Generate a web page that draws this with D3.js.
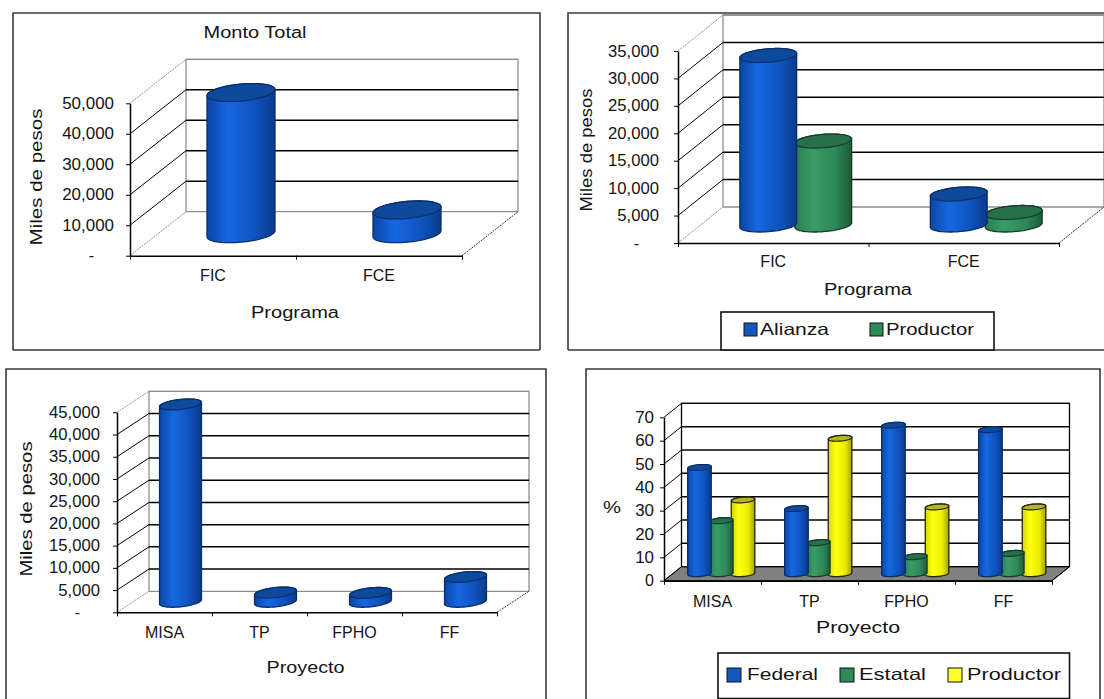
<!DOCTYPE html>
<html lang="es">
<head>
<meta charset="utf-8">
<title>Monto y participación por programa y proyecto</title>
<script src="https://cdn.jsdelivr.net/npm/d3@7/dist/d3.min.js"></script>
<style>
  html, body { margin: 0; padding: 0; background: #fff; }
  svg { display: block; }
  text { font-family: "Liberation Sans", Arial, sans-serif; fill: #141414; }
</style>
</head>
<body>
<svg id="lamina" width="1104" height="699"></svg>
<script>
// Montos totales por programa (miles de pesos)
const programas = ["FIC", "FCE"];
const montoTotal = [46300, 7800];
const ticksMontoTotal = [0, 10000, 20000, 30000, 40000, 50000];

// Aportación por programa (miles de pesos)
const programaAlianza = [30900, 5650];
const programaProductor = [15300, 2280];
const ticksAportacion = [0, 5000, 10000, 15000, 20000, 25000, 30000, 35000];

// Monto por proyecto (miles de pesos)
const proyectos = ["MISA", "TP", "FPHO", "FF"];
const montoProyecto = [44400, 2070, 2000, 5580];
const ticksProyecto = [0, 5000, 10000, 15000, 20000, 25000, 30000, 35000, 40000, 45000];

// Participación porcentual por proyecto
const pctFederal = [45.5, 27.9, 63.6, 61.7];
const pctEstatal = [22.7, 13.3, 7.3, 8.7];
const pctProductor = [31.6, 58, 28.6, 28.6];
const ticksPct = [0, 10, 20, 30, 40, 50, 60, 70];

// Paleta de cada serie: cuerpo (claro, brillo, medio, sombra), tapa y contorno
const AZUL = { stops: ["#0b46a6", "#1668e0", "#0f52bc", "#0a3a8a"], lid: "#0e4a9c", line: "#0a2c68", swatch: "#1458bd" };
const VERDE = { stops: ["#2a7d50", "#3a9c68", "#2e8656", "#1d5a39"], lid: "#27704a", line: "#123c26", swatch: "#2e8b57" };
const AMARILLO = { stops: ["#d6d600", "#ffff12", "#ecec00", "#a2a200"], lid: "#b4b428", line: "#26260a", swatch: "#ffff33" };

const svg = d3.select("#lamina");
const defs = svg.append("defs");

[["azul", AZUL], ["verde", VERDE], ["amarillo", AMARILLO]].forEach(([id, c]) => {
  const g = defs.append("linearGradient").attr("id", "grad-" + id);
  [0, 0.32, 0.72, 1].forEach((o, i) =>
    g.append("stop").attr("offset", o).attr("stop-color", c.stops[i]));
  c.gradient = "url(#grad-" + id + ")";
});

const separador = d3.format(",");
const etiquetaMiles = v => (v === 0 ? "-" : separador(v));

// Ajusta el ancho de un texto estirando sus glifos
function ajustar(sel, ancho) {
  sel.attr("textLength", ancho).attr("lengthAdjust", "spacingAndGlyphs");
}

function rotulo(g, texto, x, y, ancho, giro) {
  const t = g.append("text")
    .attr("text-anchor", "middle")
    .attr("font-size", 16)
    .attr("transform", `translate(${x},${y})` + (giro ? " rotate(-90)" : ""))
    .attr("dy", "0.35em")
    .text(texto);
  ajustar(t, ancho);
  return t;
}

function grafica(cfg) {
  const g = svg.append("g");
  const f = cfg.frame;

  // Marco, abierto en los lados que quedan fuera de la lámina
  const marco = d3.path();
  marco.moveTo(f.x0, f.y1); marco.lineTo(f.x0, f.y0); marco.lineTo(f.x1, f.y0);
  if (cfg.openRight !== true) marco.lineTo(f.x1, f.y1);
  if (cfg.openBottom !== true) {
    marco.moveTo(f.x0, f.y1); marco.lineTo(f.x1, f.y1);
  }
  g.append("path").attr("d", marco.toString()).attr("fill", "none")
    .attr("stroke", "#3a3a3a").attr("stroke-width", 1.6);

  const { x0, x1, yBase, yTop, dx, dy } = cfg.plot;
  const y = d3.scaleLinear().domain([0, d3.max(cfg.ticks)]).range([yBase, yTop]);
  const x = d3.scaleBand().domain(cfg.categories).range([x0, x1]);
  const yTopValue = d3.max(cfg.ticks);

  // Suelo
  const wall = cfg.wallColor;
  g.append("path")
    .attr("d", d3.line()([[x0, yBase], [x1, yBase], [x1 + dx, yBase - dy], [x0 + dx, yBase - dy]]) + "Z")
    .attr("fill", cfg.floorFill || "none")
    .attr("stroke", cfg.floorFill ? "#000" : "none");

  // Pared de fondo y pared lateral
  g.append("path")
    .attr("d", d3.line()([[x0 + dx, yBase - dy], [x0 + dx, y(yTopValue) - dy], [x1 + dx, y(yTopValue) - dy], [x1 + dx, yBase - dy]]))
    .attr("fill", "none").attr("stroke", wall).attr("stroke-width", 1.3);

  // Líneas de división en el fondo y en la pared lateral
  cfg.ticks.forEach(v => {
    const extremo = v === 0 || v === yTopValue;
    const color = extremo ? wall : "#000";
    g.append("line")
      .attr("x1", x0 + dx).attr("x2", x1 + dx)
      .attr("y1", y(v) - dy).attr("y2", y(v) - dy)
      .attr("stroke", color).attr("stroke-width", extremo ? 1.3 : 1.5);
    g.append("line")
      .attr("x1", x0).attr("x2", x0 + dx)
      .attr("y1", y(v)).attr("y2", y(v) - dy)
      .attr("stroke", color).attr("stroke-width", 1)
      .attr("stroke-dasharray", extremo && !cfg.floorFill ? "2 1" : null);
  });
  g.append("line").attr("x1", x1).attr("x2", x1 + dx)
    .attr("y1", yBase).attr("y2", yBase - dy)
    .attr("stroke", cfg.floorFill ? "#000" : "#333").attr("stroke-width", 1)
    .attr("stroke-dasharray", cfg.floorFill ? null : "2 1");

  // Cilindros: la base y la tapa son elipses inscritas en el paralelogramo de la celda
  const { paso, ancho, fondo } = cfg.cyl;
  const dxB = fondo * dx, dyB = fondo * dy;
  const t0 = Math.atan2(dxB, ancho);
  const arco = (cx, cy, a, b) => d3.range(0, 37).map(i => {
    const t = a + (b - a) * i / 36;
    return [cx + Math.cos(t) * ancho / 2 + Math.sin(t) * dxB / 2, cy - Math.sin(t) * dyB / 2];
  });
  const linea = d3.line();
  const n = cfg.series.length;
  d3.range(n - 1, -1, -1).forEach(s => {
    const serie = cfg.series[s];
    cfg.categories.forEach((cat, i) => {
      const cx = x(cat) + x.bandwidth() / 2 + dx / 2 + (s - (n - 1) / 2) * paso;
      const cyBase = yBase - dy / 2;
      const cyTop = y(serie.values[i]) - dy / 2;
      const inferior = arco(cx, cyBase, t0 + Math.PI, t0 + 2 * Math.PI);
      const superior = arco(cx, cyTop, t0, t0 + Math.PI);
      g.append("path")
        .attr("d", linea(inferior.concat(superior)) + "Z")
        .attr("fill", serie.color.gradient)
        .attr("stroke", serie.color.line).attr("stroke-width", 1.3);
      g.append("path")
        .attr("d", linea(arco(cx, cyTop, 0, 2 * Math.PI)) + "Z")
        .attr("fill", serie.color.lid)
        .attr("stroke", serie.color.line).attr("stroke-width", 1.2);
    });
  });

  // Eje de valores
  const ejeY = g.append("g").attr("transform", `translate(${x0},0)`)
    .call(d3.axisLeft(y).tickValues(cfg.ticks).tickFormat(cfg.format)
      .tickSizeInner(4).tickSizeOuter(0).tickPadding(cfg.yPad));
  ejeY.select(".domain").attr("stroke", "#000").attr("stroke-width", 1.5);
  ejeY.selectAll("line").attr("stroke", "#000");
  ejeY.selectAll("text").attr("font-size", 16)
    .each(function (v) {
      const t = d3.select(this);
      if (v === 0 && cfg.zeroShift) t.attr("x", +t.attr("x") - cfg.zeroShift);
      ajustar(t, this.getComputedTextLength() * (v === 0 ? 1 : cfg.tickStretch));
    });
  ejeY.attr("font-family", null);

  // Eje de categorías: marcas en los límites y etiquetas centradas
  const limites = d3.scaleLinear().domain([0, cfg.categories.length]).range([x0, x1]);
  const ejeMarcas = g.append("g").attr("transform", `translate(0,${yBase})`)
    .call(d3.axisBottom(limites).tickValues(d3.range(cfg.categories.length + 1))
      .tickFormat("").tickSizeInner(4).tickSizeOuter(0));
  ejeMarcas.select(".domain").attr("stroke", "#000").attr("stroke-width", 1.5);
  ejeMarcas.selectAll("line").attr("stroke", "#000");

  const ejeX = g.append("g").attr("transform", `translate(0,${yBase})`)
    .call(d3.axisBottom(x).tickSize(0).tickPadding(cfg.xPad));
  ejeX.select(".domain").remove();
  ejeX.attr("font-family", null);
  ejeX.selectAll("text").attr("font-size", 16);

  // Rótulos
  if (cfg.title) rotulo(g, cfg.title.text, cfg.title.x, cfg.title.y, cfg.title.w, false);
  rotulo(g, cfg.xLabel.text, cfg.xLabel.x, cfg.xLabel.y, cfg.xLabel.w, false);
  rotulo(g, cfg.yLabel.text, cfg.yLabel.x, cfg.yLabel.y, cfg.yLabel.w, cfg.yLabel.rotate !== false);

  // Leyenda
  if (cfg.legend) {
    const l = cfg.legend;
    g.append("rect").attr("x", l.x).attr("y", l.y).attr("width", l.w).attr("height", l.h)
      .attr("fill", "#fff").attr("stroke", "#111").attr("stroke-width", 1.6);
    cfg.series.forEach((serie, i) => {
      const e = l.items[i];
      g.append("rect").attr("x", e.sx).attr("y", l.sy).attr("width", l.ss).attr("height", l.ss)
        .attr("fill", serie.color.swatch).attr("stroke", "#111").attr("stroke-width", 1);
      const t = g.append("text").attr("x", e.tx).attr("y", l.ty).attr("dy", "0.35em")
        .attr("font-size", 16.5).text(serie.name);
      ajustar(t, e.tw);
    });
  }
}

grafica({
  categories: programas,
  ticks: ticksMontoTotal,
  format: etiquetaMiles,
  series: [{ name: "Monto", values: montoTotal, color: AZUL }],
  frame: { x0: 13, y0: 13, x1: 540, y1: 350 },
  plot: { x0: 130, x1: 462, yBase: 255.7, yTop: 103.3, dx: 56, dy: 44 },
  cyl: { paso: 0, ancho: 64, fondo: 0.41 },
  wallColor: "#8f8f8f",
  yPad: 12, xPad: 14, zeroShift: 20, tickStretch: 1.06,
  title: { text: "Monto Total", x: 255, y: 32, w: 103 },
  xLabel: { text: "Programa", x: 295, y: 312, w: 88 },
  yLabel: { text: "Miles de pesos", x: 36, y: 177, w: 137 }
});

grafica({
  categories: programas,
  ticks: ticksAportacion,
  format: etiquetaMiles,
  series: [
    { name: "Alianza", values: programaAlianza, color: AZUL },
    { name: "Productor", values: programaProductor, color: VERDE }
  ],
  frame: { x0: 568, y0: 13, x1: 1104, y1: 350 },
  openRight: true,
  plot: { x0: 678, x1: 1059, yBase: 243, yTop: 51, dx: 45, dy: 36 },
  cyl: { paso: 55, ancho: 54, fondo: 0.39 },
  wallColor: "#8f8f8f",
  yPad: 15, xPad: 13, zeroShift: 20, tickStretch: 1.04,
  xLabel: { text: "Programa", x: 868, y: 289, w: 88 },
  yLabel: { text: "Miles de pesos", x: 586, y: 150, w: 123 },
  legend: {
    x: 721, y: 312, w: 273, h: 38, sy: 323, ss: 13, ty: 329,
    items: [{ sx: 744, tx: 760, tw: 69 }, { sx: 870, tx: 886, tw: 88 }]
  }
});

grafica({
  categories: proyectos,
  ticks: ticksProyecto,
  format: etiquetaMiles,
  series: [{ name: "Monto", values: montoProyecto, color: AZUL }],
  frame: { x0: 6, y0: 369, x1: 546, y1: 699 },
  openBottom: true,
  plot: { x0: 117, x1: 497, yBase: 612.3, yTop: 412.3, dx: 32, dy: 21 },
  cyl: { paso: 0, ancho: 38.5, fondo: 0.52 },
  wallColor: "#8f8f8f",
  yPad: 13, xPad: 14, zeroShift: 20, tickStretch: 1.04,
  xLabel: { text: "Proyecto", x: 305.5, y: 667.7, w: 78 },
  yLabel: { text: "Miles de pesos", x: 26, y: 509, w: 135 }
});

grafica({
  categories: proyectos,
  ticks: ticksPct,
  format: d3.format("d"),
  series: [
    { name: "Federal", values: pctFederal, color: AZUL },
    { name: "Estatal", values: pctEstatal, color: VERDE },
    { name: "Productor", values: pctProductor, color: AMARILLO }
  ],
  frame: { x0: 586, y0: 369, x1: 1100, y1: 699 },
  openBottom: true,
  plot: { x0: 664, x1: 1052, yBase: 580.7, yTop: 417.3, dx: 17.5, dy: 14 },
  cyl: { paso: 21.8, ancho: 22.4, fondo: 0.42 },
  wallColor: "#000",
  floorFill: "#808080",
  yPad: 6, xPad: 15, zeroShift: 0, tickStretch: 1.06,
  xLabel: { text: "Proyecto", x: 858, y: 627.7, w: 84 },
  yLabel: { text: "%", x: 612, y: 507.7, w: 18, rotate: false },
  legend: {
    x: 718, y: 653, w: 351.5, h: 45.5, sy: 668, ss: 14, ty: 674,
    items: [{ sx: 727, tx: 747, tw: 71 }, { sx: 840, tx: 859, tw: 67 }, { sx: 948, tx: 967, tw: 94 }]
  }
});
</script>
</body>
</html>
